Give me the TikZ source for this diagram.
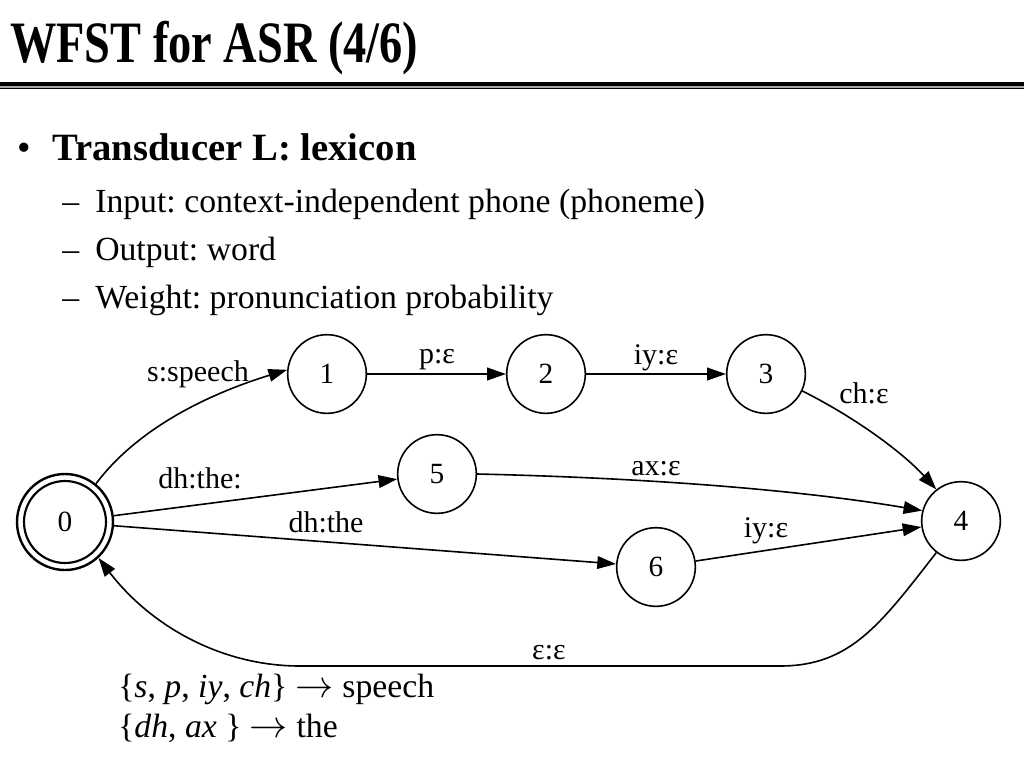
\documentclass[tikz,border=0pt]{standalone}
\usepackage{fontspec}
\usepackage{graphicx}
\setmainfont{Liberation Serif}
\usetikzlibrary{arrows.meta}
\begin{document}
\frenchspacing
\begin{tikzpicture}[x=0.75pt,y=-0.75pt,
  state/.style={circle,draw,line width=1.2pt,minimum size=59pt,inner sep=0pt,font=\fontsize{22}{22}\selectfont},
  lab/.style={inner sep=0pt,anchor=base,font=\fontsize{22.5}{22.5}\selectfont},
  arc/.style={line width=1.2pt,-{Triangle[length=14pt,width=9.5pt]}},
  txt/.style={inner sep=0pt,anchor=base west},
  body/.style={txt,font=\fontsize{25.3}{30}\selectfont}]
\useasboundingbox (0,0) rectangle (1024,768);
\fill[white] (0,0) rectangle (1024,768);
% title
\node[txt,font=\fontsize{44}{52}\selectfont\bfseries] (title) at (10,62) {\scalebox{0.79}[1]{WFST for ASR (4/6)}};
\fill[black] (0,82) rectangle (1024,86);
\fill[black!35] (0,86) rectangle (1024,88);
\fill[black] (0,88) rectangle (1024,89.3);
% bullets
\node[txt,font=\fontsize{29}{34}\selectfont] (b1) at (17,160) {•};
\node[txt,font=\fontsize{29}{34}\selectfont\bfseries] (t1) at (52,160) {Transducer L: lexicon};
\node[body] (d1) at (62,212) {–};
\node[body] (t2) at (95,212) {Input: context-independent phone (phoneme)};
\node[body] (d2) at (62,260) {–};
\node[body] (t3) at (95,260) {Output: word};
\node[body] (d3) at (62,308) {–};
\node[body] (t4) at (95,308) {Weight: pronunciation probability};
% states
\node[circle,draw,line width=1.8pt,minimum size=72pt,inner sep=0pt] (n0) at (65,522) {};
\node[state,line width=1.6pt,minimum size=61.5pt] (n0in) at (65,522) {0};
\node[state] (n1) at (327,374) {1};
\node[state] (n2) at (546,374) {2};
\node[state] (n3) at (766,374) {3};
\node[state] (n4) at (961,521) {4};
\node[state] (n5) at (437,474) {5};
\node[state] (n6) at (656,567) {6};
% arcs
\draw[arc] (n0.51) .. controls (140,425) and (215,392) .. (n1.174);
\draw[arc] (n1) -- (n2);
\draw[arc] (n2) -- (n3);
\draw[arc] (n3.-25) .. controls (860,420) and (905,455) .. (n4.128);
\draw[arc] (n0) -- (n5);
\draw[arc] (n5.0) .. controls (650,478) and (800,490) .. (n4.165);
\draw[arc] (n0) -- (n6);
\draw[arc] (n6) -- (n4);
\draw[arc] (n4.-128) .. controls (880,625) and (850,666) .. (780,666) -- (300,666) .. controls (220,666) and (150,625) .. (n0.-47);
% labels
\node[lab] (l01) at (198,381) {s:speech};
\node[lab] (l12) at (437,363) {p:ε};
\node[lab] (l23) at (656,364) {iy:ε};
\node[lab] (l34) at (864,403) {ch:ε};
\node[lab] (l05) at (200,488) {dh:the:};
\node[lab] (l54) at (656,475) {ax:ε};
\node[lab] (l06) at (326,532) {dh:the};
\node[lab] (l64) at (766,537) {iy:ε};
\node[lab] (l40) at (549,659) {ε:ε};
% bottom text
\node[inner sep=0pt,anchor=north west,align=left,font=\fontsize{25.3}{30}\selectfont] (m1) at (118,674)
  {\{\textit{s}, \textit{p}, \textit{iy}, \textit{ch}\} \scalebox{1.15}{$\rightarrow$} speech\\
   \{\textit{dh}, \textit{ax} \} \scalebox{1.15}{$\rightarrow$} the};
\end{tikzpicture}
\end{document}
